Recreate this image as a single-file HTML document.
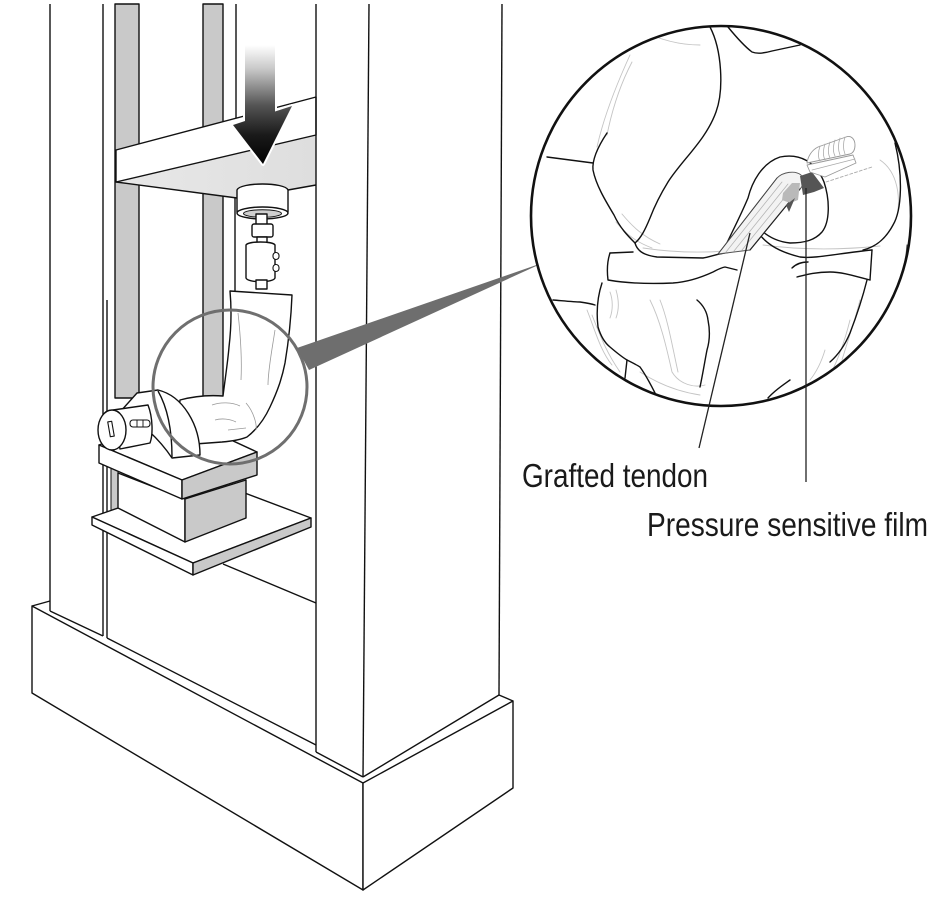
<!DOCTYPE html>
<html><head><meta charset="utf-8"><style>
html,body{margin:0;padding:0;background:#fff;}
svg{display:block;}
</style></head><body>
<svg width="942" height="898" viewBox="0 0 942 898" xmlns="http://www.w3.org/2000/svg">
<defs>
<linearGradient id="ag" x1="0" y1="45" x2="0" y2="165" gradientUnits="userSpaceOnUse">
<stop offset="0" stop-color="#ffffff"/>
<stop offset="0.2" stop-color="#c8c8c8"/>
<stop offset="0.5" stop-color="#555"/>
<stop offset="0.75" stop-color="#1a1a1a"/>
<stop offset="1" stop-color="#000"/>
</linearGradient>
<linearGradient id="bf" x1="116" y1="0" x2="316" y2="0" gradientUnits="userSpaceOnUse">
<stop offset="0" stop-color="#e8e8e8"/><stop offset="1" stop-color="#dedede"/>
</linearGradient>
<clipPath id="cc"><circle cx="721" cy="216" r="190"/></clipPath>
</defs>
<rect width="942" height="898" fill="#fff"/>

<g stroke="#111" stroke-width="1.4" fill="none" stroke-linejoin="round">
<!-- back columns -->
<rect x="115" y="4" width="24" height="394" fill="#c9c9c9"/>
<rect x="203" y="4" width="20" height="396" fill="#c9c9c9"/>
<line x1="236" y1="4" x2="236" y2="120"/>
<line x1="235" y1="198" x2="235" y2="292"/>

<!-- crossbeam -->
<polygon points="116,182 316,135 316,185 288,190 237,198" fill="url(#bf)" stroke="none"/>
<polygon points="116,150 316,97 316,135 116,182" fill="#fff"/>
<polyline points="116,182 237,198"/>
<polyline points="288,190 316,185"/>

<!-- arrow -->
<polygon points="245,45 275,45 275,111.5 292,106 263,164 233,125 245,121" fill="#fff" stroke="#fff" stroke-width="4"/>
<polygon points="245,45 275,45 275,111.5 292,106 263,164 233,125 245,121" fill="url(#ag)" stroke="none"/>

<!-- load cell and fixture -->
<path d="M237,190 C240,182 285,182 288,190 L288,212 L237,212 Z" fill="#fff"/>
<ellipse cx="262.5" cy="213" rx="25.5" ry="6" fill="#fff"/>
<ellipse cx="262.5" cy="213.5" rx="19" ry="3.8" fill="#cfcfcf" stroke-width="1"/>
<rect x="256" y="214" width="11" height="11" fill="#fff"/>
<rect x="252" y="224" width="21" height="13" rx="2" fill="#fff"/>
<rect x="257" y="237" width="10" height="6" fill="#fff"/>
<path d="M246,245 C248,241 273,241 275,245 L275,278 C273,283 248,283 246,278 Z" fill="#fff"/>
<rect x="273" y="252.5" width="6" height="7" rx="3" fill="#fff" stroke-width="1.1"/>
<rect x="273" y="264.5" width="6" height="7" rx="3" fill="#fff" stroke-width="1.1"/>
<rect x="256" y="280" width="11" height="9" fill="#fff"/>

<!-- pillars -->
<line x1="50" y1="4" x2="50" y2="611"/>
<line x1="103" y1="4" x2="103" y2="636"/>
<line x1="107" y1="300" x2="107" y2="638"/>
<line x1="316" y1="4" x2="316" y2="752"/>
<line x1="369" y1="4" x2="363" y2="777"/>
<line x1="502" y1="4" x2="499" y2="695"/>

<!-- shelf -->
<line x1="223" y1="564" x2="316" y2="603"/>
<rect x="111" y="466" width="7" height="44" fill="#c9c9c9" stroke-width="1"/>
<polygon points="92,517 205,478 311,518 193,563" fill="#fff"/>
<polygon points="92,517 193,563 193,575 92,525" fill="#fff"/>
<polygon points="193,563 311,518 311,527 193,575" fill="#c9c9c9"/>
<!-- box -->
<polygon points="118,473 185,499 185,542 118,508" fill="#fff"/>
<polygon points="185,499 246,480 246,518 185,542" fill="#c9c9c9"/>
<!-- slab -->
<polygon points="99,445 177,415 257,452 182,480" fill="#fff"/>
<polygon points="99,445 182,480 182,499 99,463" fill="#fff"/>
<polygon points="182,480 257,452 257,475 182,499" fill="#c9c9c9"/>

<!-- arm -->
<path d="M230,291 L292,295 C291,320 288,345 285,363 C282,378 278,390 270,407 C264,420 256,430 247,437 C240,440 232,441 222,442 L195,444 L178,420 L180,400 C195,396 210,395 223,396 C225,380 228,360 229,347 C231,330 232,313 230,291 Z" fill="#fff"/>
<g stroke="#999" stroke-width="0.8">
<path d="M238,313 C241,340 242,360 241,380"/>
<path d="M275,330 C272,350 268,370 268,385"/>
<path d="M246,403 C254,412 257,425 256,430"/>
<path d="M212,405 C220,402 232,402 240,406"/>
<path d="M215,420 C222,418 230,419 236,422"/>
<path d="M228,430 L246,428"/>
</g>
<!-- half disk -->
<path d="M137,393 L158,390 C183,396 200,425 200,455 L172,458 C160,440 140,420 120,412 Z" fill="#fff"/>
<path d="M158,391 C166,405 172,425 172,457"/>
<!-- knob -->
<path d="M113,410 L148,405 C153,418 153,435 150,443 L120,449 Z" fill="#fff"/>
<ellipse cx="112" cy="430" rx="14" ry="20" fill="#fff"/>
<rect x="-2" y="-7.5" width="4" height="15" fill="#fff" stroke-width="1.1" transform="translate(111,429) rotate(-10)"/>
<rect x="130" y="420" width="20" height="7" rx="3" fill="#fff" stroke-width="1.1"/>
<line x1="137" y1="420" x2="137" y2="427" stroke-width="0.9"/>
<line x1="143" y1="420" x2="143" y2="427" stroke-width="0.9"/>

<!-- base -->
<polygon points="32,606 363,783 363,890 32,693" fill="#fff"/>
<polygon points="363,783 513,701 513,788 363,890" fill="#fff"/>
<line x1="32" y1="606" x2="50" y2="601"/>
<line x1="513" y1="701" x2="499" y2="695"/>
<line x1="50" y1="611" x2="103" y2="636"/>
<line x1="107" y1="638" x2="316" y2="745"/>
<line x1="316" y1="752" x2="363" y2="777"/>
<line x1="363" y1="777" x2="499" y2="695"/>
</g>

<!-- magnifier small circle + wedge -->
<circle cx="230" cy="387" r="77" fill="none" stroke="#6f6f6f" stroke-width="3"/>
<polygon points="297,348 545,262 309,370" fill="#6e6e6e"/>
<line x1="540" y1="266" x2="570" y2="230" stroke="#777" stroke-width="1.5"/>

<!-- inset -->
<circle cx="721" cy="216" r="190" fill="#fff"/>
<g clip-path="url(#cc)" fill="none" stroke-linecap="round" stroke-linejoin="round">
 <g stroke="#c4c4c4" stroke-width="0.9">
  <path d="M597,147 C603,120 614,90 630,55"/>
  <path d="M607,135 C612,110 620,85 632,62"/>
  <path d="M616,222 C626,234 636,242 652,248"/>
  <path d="M622,214 C632,226 642,236 660,244"/>
  <path d="M643,248 C670,252 700,253 725,251"/>
  <path d="M763,245 C800,250 840,250 880,246"/>
  <path d="M610,292 C613,300 613,310 610,318"/>
  <path d="M616,290 C619,300 619,310 616,318"/>
  <path d="M650,300 C660,320 666,345 672,372 C680,385 695,388 705,385"/>
  <path d="M660,300 C668,320 672,345 678,372"/>
  <path d="M587,310 C595,330 600,350 612,365"/>
  <path d="M592,315 C600,335 606,352 620,372"/>
  <path d="M640,372 C660,385 680,392 700,395"/>
  <path d="M860,300 C855,320 848,340 842,360"/>
  <path d="M850,320 C845,340 838,360 830,375"/>
  <path d="M810,380 C818,370 822,360 825,350"/>
  <path d="M893,300 C900,285 905,265 907,245" stroke="#999"/>
  <path d="M880,160 C895,170 900,190 898,210"/>
  <path d="M640,30 C660,40 680,45 700,45"/>
 </g>
 <g stroke="#111" stroke-width="1.4">
  <path d="M710,27 C722,50 724,90 716,112 C706,140 682,160 668,182 C660,195 655,205 650,218 C645,230 641,238 635,243"/>
  <path d="M635,243 C628,236 620,228 614,215 C605,200 596,185 593,170 C592,160 597,148 607,133"/>
  <path d="M547,157 L593,163"/>
  <path d="M728,27 C737,38 744,46 752,52 C757,54 765,53 772,51 L800,45"/>
  <path d="M895,143 C903,175 902,210 893,225 C885,240 875,247 863,250"/>
  <path d="M635,243 C637,250 642,255 657,257 L703,258 C710,257 716,254 730,252 L743,250"/>
  <path d="M725,247 C732,232 740,217 748,198 C752,182 762,163 780,157 C800,153 816,162 824,182 C830,200 830,222 822,232 C815,240 805,243 790,243 C780,242 770,238 762,231"/>
  <path d="M610,253 L633,252"/>
  <path d="M610,253 C607,262 607,272 608,280 C625,283 650,284 673,283 C688,282 700,278 713,272 C717,270 720,268 725,267 L737,270"/>
  <path d="M602,283 C598,295 596,310 598,327 C601,337 605,343 610,347 C617,353 622,357 627,360 C633,363 637,365 640,367 C645,374 650,383 655,393"/>
  <path d="M627,360 L625,378"/>
  <path d="M553,300 C565,301 575,302 580,302 C587,303 592,304 595,305"/>
  <path d="M697,300 C703,305 707,312 708,320 C710,330 710,340 707,350 C705,360 703,373 700,387"/>
  <path d="M760,235 C768,245 780,252 800,257 C815,259 840,253 872,250"/>
  <path d="M872,250 L870,280"/>
  <path d="M870,280 C860,278 845,272 830,272 C815,272 805,275 797,277"/>
  <path d="M792,268 C796,264 802,262 808,262"/>
  <path d="M867,280 C862,300 855,320 850,333 C845,345 838,355 830,362"/>
  <path d="M790,380 C783,385 775,390 768,398"/>
  <path d="M900,290 C904,275 906,262 907,245" stroke="#444" stroke-width="1"/>
 </g>
 <!-- tendon -->
 <path d="M718,254 L777,178 C783,172 795,170 801,175 C805,180 803,186 800,189 L750,250 Z" fill="#f3f3f3" stroke="#555" stroke-width="0.9"/>
 <g stroke="#b5b5b5" stroke-width="0.8">
  <path d="M726,252 L782,182"/>
  <path d="M734,251 L788,184"/>
  <path d="M742,250 L794,186"/>
 </g>
 <path d="M750,250 L800,189" stroke="#222" stroke-width="1.2"/>
 <path d="M718,254 L777,178" stroke="#444" stroke-width="1"/>
 <polygon points="783,193 792,183 800,183 798,200 790,203 782,200" fill="#b9b9b9"/>
 <polygon points="800,176 812,172 824,188 814,192 803,195" fill="#555"/>
 <polygon points="786,205 795,198 789,212" fill="#555"/>
 <!-- screw -->
 <path d="M807,163 C808,156 812,150 818,147 L846,137 C851,135 855,139 855,145 C855,150 853,153 850,154 Z" fill="#fff" stroke="#999" stroke-width="0.9"/>
 <g stroke="#aaa" stroke-width="0.8">
  <path d="M820,146 C818,152 818,158 820,161"/>
  <path d="M825,144 C823,150 823,156 825,160"/>
  <path d="M830,142 C828,148 828,154 830,158"/>
  <path d="M835,140 C833,146 833,152 835,156"/>
  <path d="M840,138 C838,144 838,150 840,155"/>
  <path d="M845,137 C843,143 843,149 845,154"/>
 </g>
 <path d="M807,165 L853,155 L856,163 L825,177 L810,172 Z" fill="#fff" stroke="#999" stroke-width="0.9"/>
 <path d="M812,170 L855,159" stroke="#aaa" stroke-width="0.7"/>
 <path d="M826,182 L872,167" stroke="#aaa" stroke-width="0.9" stroke-dasharray="3,2"/>
</g>
<circle cx="721" cy="216" r="190" fill="none" stroke="#111" stroke-width="2.6"/>

<!-- leaders -->
<line x1="750" y1="233" x2="699" y2="448" stroke="#222" stroke-width="1.3"/>
<line x1="806" y1="188" x2="806" y2="482" stroke="#222" stroke-width="1.3"/>

<!-- labels -->
<text x="522" y="487" font-family="Liberation Sans, Arial, sans-serif" font-size="33" fill="#1a1a1a" textLength="186" lengthAdjust="spacingAndGlyphs">Grafted tendon</text>
<text x="647" y="536" font-family="Liberation Sans, Arial, sans-serif" font-size="33.5" fill="#1a1a1a" textLength="281" lengthAdjust="spacingAndGlyphs">Pressure sensitive film</text>
</svg>
</body></html>
